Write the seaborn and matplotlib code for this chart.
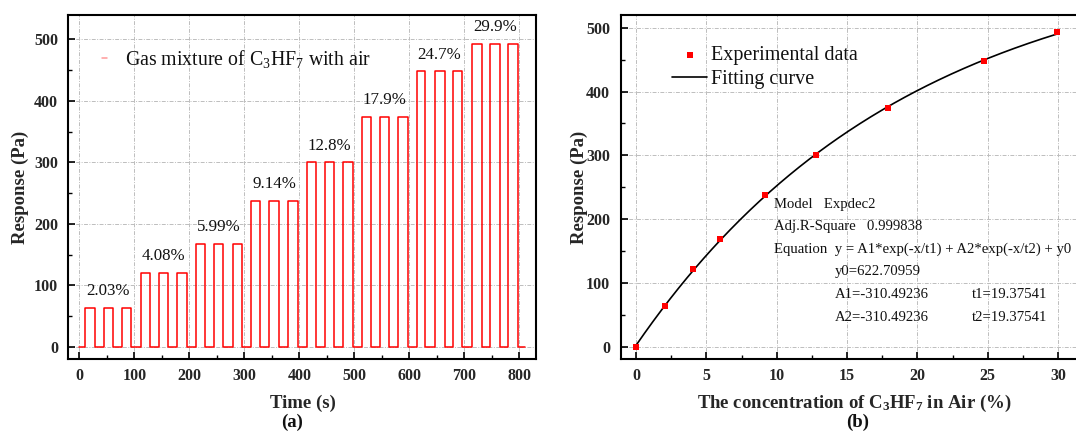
import numpy as np
import pandas as pd
import matplotlib
matplotlib.use("Agg")
import matplotlib.pyplot as plt
import seaborn as sns
from matplotlib.ticker import MultipleLocator

# ---------------- data ----------------
concentration_labels = ["2.03%", "4.08%", "5.99%", "9.14%", "12.8%", "17.9%", "24.7%", "29.9%"]
plateau_levels = [64, 121, 168, 238, 300, 374, 448, 493]
pulse_on = [11, 44, 77, 112, 145, 178, 212, 245, 279, 312, 345, 380,
            413, 447, 480, 513, 546, 579, 613, 646, 679, 713, 747, 780]
pulse_off = [28, 61, 94, 129, 162, 195, 229, 262, 296, 329, 363, 397,
             430, 463, 497, 530, 563, 597, 629, 664, 696, 731, 764, 797]
trace_start = 0
trace_end = 810

concentration = [0, 2.03, 4.08, 5.99, 9.14, 12.8, 17.9, 24.7, 29.9]
response = [0, 63, 121, 168, 238, 300, 374, 448, 493]

fit_y0 = 622.70959
fit_A1 = -310.49236
fit_A2 = -310.49236
fit_t1 = 19.37541
fit_t2 = 19.37541
fit_adj_r2 = 0.999838

time_ticks = [0, 100, 200, 300, 400, 500, 600, 700, 800]
resp_ticks = [0, 100, 200, 300, 400, 500]
conc_ticks = [0, 5, 10, 15, 20, 25, 30]

# ---------------- build tables ----------------
pulse_levels = np.repeat(plateau_levels, 3)
t_pts, r_pts = [trace_start], [0]
for on, off, lev in zip(pulse_on, pulse_off, pulse_levels):
    t_pts += [on, on, off, off]
    r_pts += [0, lev, lev, 0]
t_pts.append(trace_end)
r_pts.append(0)
trace = pd.DataFrame({"time": t_pts, "resp": r_pts})

exp_df = pd.DataFrame({"conc": concentration, "resp": response})
xf = np.linspace(concentration[0], concentration[-1], 300)
fit_df = pd.DataFrame({"conc": xf,
                       "resp": fit_A1 * np.exp(-xf / fit_t1) + fit_A2 * np.exp(-xf / fit_t2) + fit_y0})

# ---------------- style ----------------
sns.set_theme(style="ticks")
plt.rcParams["font.family"] = ["Liberation Serif", "DejaVu Serif"]
plt.rcParams["mathtext.fontset"] = "custom"
plt.rcParams["mathtext.rm"] = "Liberation Serif"
plt.rcParams["mathtext.it"] = "Liberation Serif:italic"
plt.rcParams["mathtext.bf"] = "Liberation Serif:bold"
plt.rcParams["axes.edgecolor"] = "black"
plt.rcParams["axes.linewidth"] = 1.5
plt.rcParams["text.color"] = "#111111"

W, H = 1076, 432
fig = plt.figure(figsize=(W / 100, H / 100), dpi=100)
fig.patch.set_facecolor("white")

ax1 = fig.add_axes([68.3 / W, 1 - 359.3 / H, (536 - 68.3) / W, (359.3 - 14.7) / H])
ax2 = fig.add_axes([620.5 / W, 1 - 359.3 / H, (1082 - 620.5) / W, (359.3 - 15) / H])

grid_kw = dict(color="#bdbdbd", linestyle=(0, (4, 1.5, 1, 1.5)), linewidth=0.7)
lab_kw = dict(fontsize=13.5, fontweight="bold")
tick_fs = 11.5

# ---------------- panel (a) ----------------
sns.lineplot(data=trace, x="time", y="resp", sort=False, estimator=None,
             color="#ff0000", linewidth=1.1, ax=ax1,
             label="Gas mixture of C$_3$HF$_7$ with air")
ax1.set_xlim(-20, 830)
ax1.set_ylim(-20, 540)
ax1.set_xticks(time_ticks)
ax1.set_xticklabels([str(v) for v in time_ticks], fontsize=tick_fs, fontweight="bold")
ax1.set_yticks(resp_ticks)
ax1.set_yticklabels([str(v) for v in resp_ticks], fontsize=tick_fs, fontweight="bold")
ax1.xaxis.set_minor_locator(MultipleLocator(50))
ax1.yaxis.set_minor_locator(MultipleLocator(50))

for k, (lab, lev) in enumerate(zip(concentration_labels, plateau_levels)):
    xc = (pulse_on[3 * k] + pulse_off[3 * k + 2]) / 2
    ax1.text(xc, lev + 27, lab, ha="center", va="center", fontsize=12.2)

leg1 = ax1.legend(loc="center left", bbox_to_anchor=(0.072, 0.872), frameon=False,
                  fontsize=14.3, handlelength=0.25, handletextpad=0.92,
                  borderpad=0, borderaxespad=0)
for h in leg1.legend_handles:
    h.set_alpha(0.4)

ax1.set_xlabel("Time (s)", **lab_kw)
ax1.set_ylabel("Response (Pa)", **lab_kw)
ax1.xaxis.label.set_va("center")
ax1.yaxis.label.set_va("center")
ax1.xaxis.set_label_coords(0.501, -0.128)
ax1.yaxis.set_label_coords(-0.103, 0.5)

# ---------------- panel (b) ----------------
sns.scatterplot(data=exp_df, x="conc", y="resp", marker="s", s=13, color="#ff0000",
                linewidth=0, ax=ax2, zorder=3, label="Experimental data")
sns.lineplot(data=fit_df, x="conc", y="resp", color="black", linewidth=1.2,
             ax=ax2, zorder=2, label="Fitting curve")
ax2.set_xlim(-1.1, 31.7)
ax2.set_ylim(-20, 520)
ax2.set_xticks(conc_ticks)
ax2.set_xticklabels([str(v) for v in conc_ticks], fontsize=tick_fs, fontweight="bold")
ax2.set_yticks(resp_ticks)
ax2.set_yticklabels([str(v) for v in resp_ticks], fontsize=tick_fs, fontweight="bold")
ax2.xaxis.set_minor_locator(MultipleLocator(2.5))
ax2.yaxis.set_minor_locator(MultipleLocator(50))

ax2.legend(loc="center left", bbox_to_anchor=(0.1116, 0.8475), frameon=False,
           fontsize=14.5, handlelength=1.75, handletextpad=0.2, labelspacing=0.25,
           borderpad=0, borderaxespad=0, markerscale=1.0)

ann_kw = dict(fontsize=10.6, ha="left", va="center")
ax2.text(9.83, 223, "Model   Expdec2", **ann_kw)
ax2.text(9.83, 189, f"Adj.R-Square   {fit_adj_r2:.6f}", **ann_kw)
ax2.text(9.83, 152.5, "Equation  y = A1*exp(-x/t1) + A2*exp(-x/t2) + y0", **ann_kw)
ax2.text(14.1, 117, f"y0={fit_y0:.5f}", **ann_kw)
ax2.text(14.1, 81, f"A1={fit_A1:.5f}", **ann_kw)
ax2.text(23.9, 81, f"t1={fit_t1:.5f}", **ann_kw)
ax2.text(14.1, 46, f"A2={fit_A2:.5f}", **ann_kw)
ax2.text(23.9, 46, f"t2={fit_t2:.5f}", **ann_kw)

ax2.set_xlabel(r"The concentration of C$_\mathbf{3}$HF$_\mathbf{7}$ in Air (%)", **lab_kw)
ax2.set_ylabel("Response (Pa)", **lab_kw)
ax2.xaxis.label.set_va("center")
ax2.yaxis.label.set_va("center")
ax2.xaxis.set_label_coords(0.506, -0.128)
ax2.yaxis.set_label_coords(-0.09, 0.5)

# ---------------- shared axis styling ----------------
for ax in (ax1, ax2):
    ax.set_facecolor("white")
    ax.grid(True, which="major", **grid_kw)
    ax.set_axisbelow(True)
    for sp in ax.spines.values():
        sp.set_visible(True)
        sp.set_color("black")
        sp.set_linewidth(1.5)
    ax.tick_params(which="major", direction="in", length=5, width=1.2, color="black",
                   top=False, right=False)
    ax.tick_params(which="minor", direction="in", length=3, width=1.0, color="black",
                   top=False, right=False)
    ax.tick_params(axis="x", which="major", pad=6)
    ax.tick_params(axis="y", which="major", pad=7.5)

fig.text(292 / W, 1 - 422 / H, "(a)", ha="center", va="center", fontsize=13.5, fontweight="bold")
fig.text(858 / W, 1 - 422 / H, "(b)", ha="center", va="center", fontsize=13.5, fontweight="bold")

fig.savefig("out.png", dpi=100)
